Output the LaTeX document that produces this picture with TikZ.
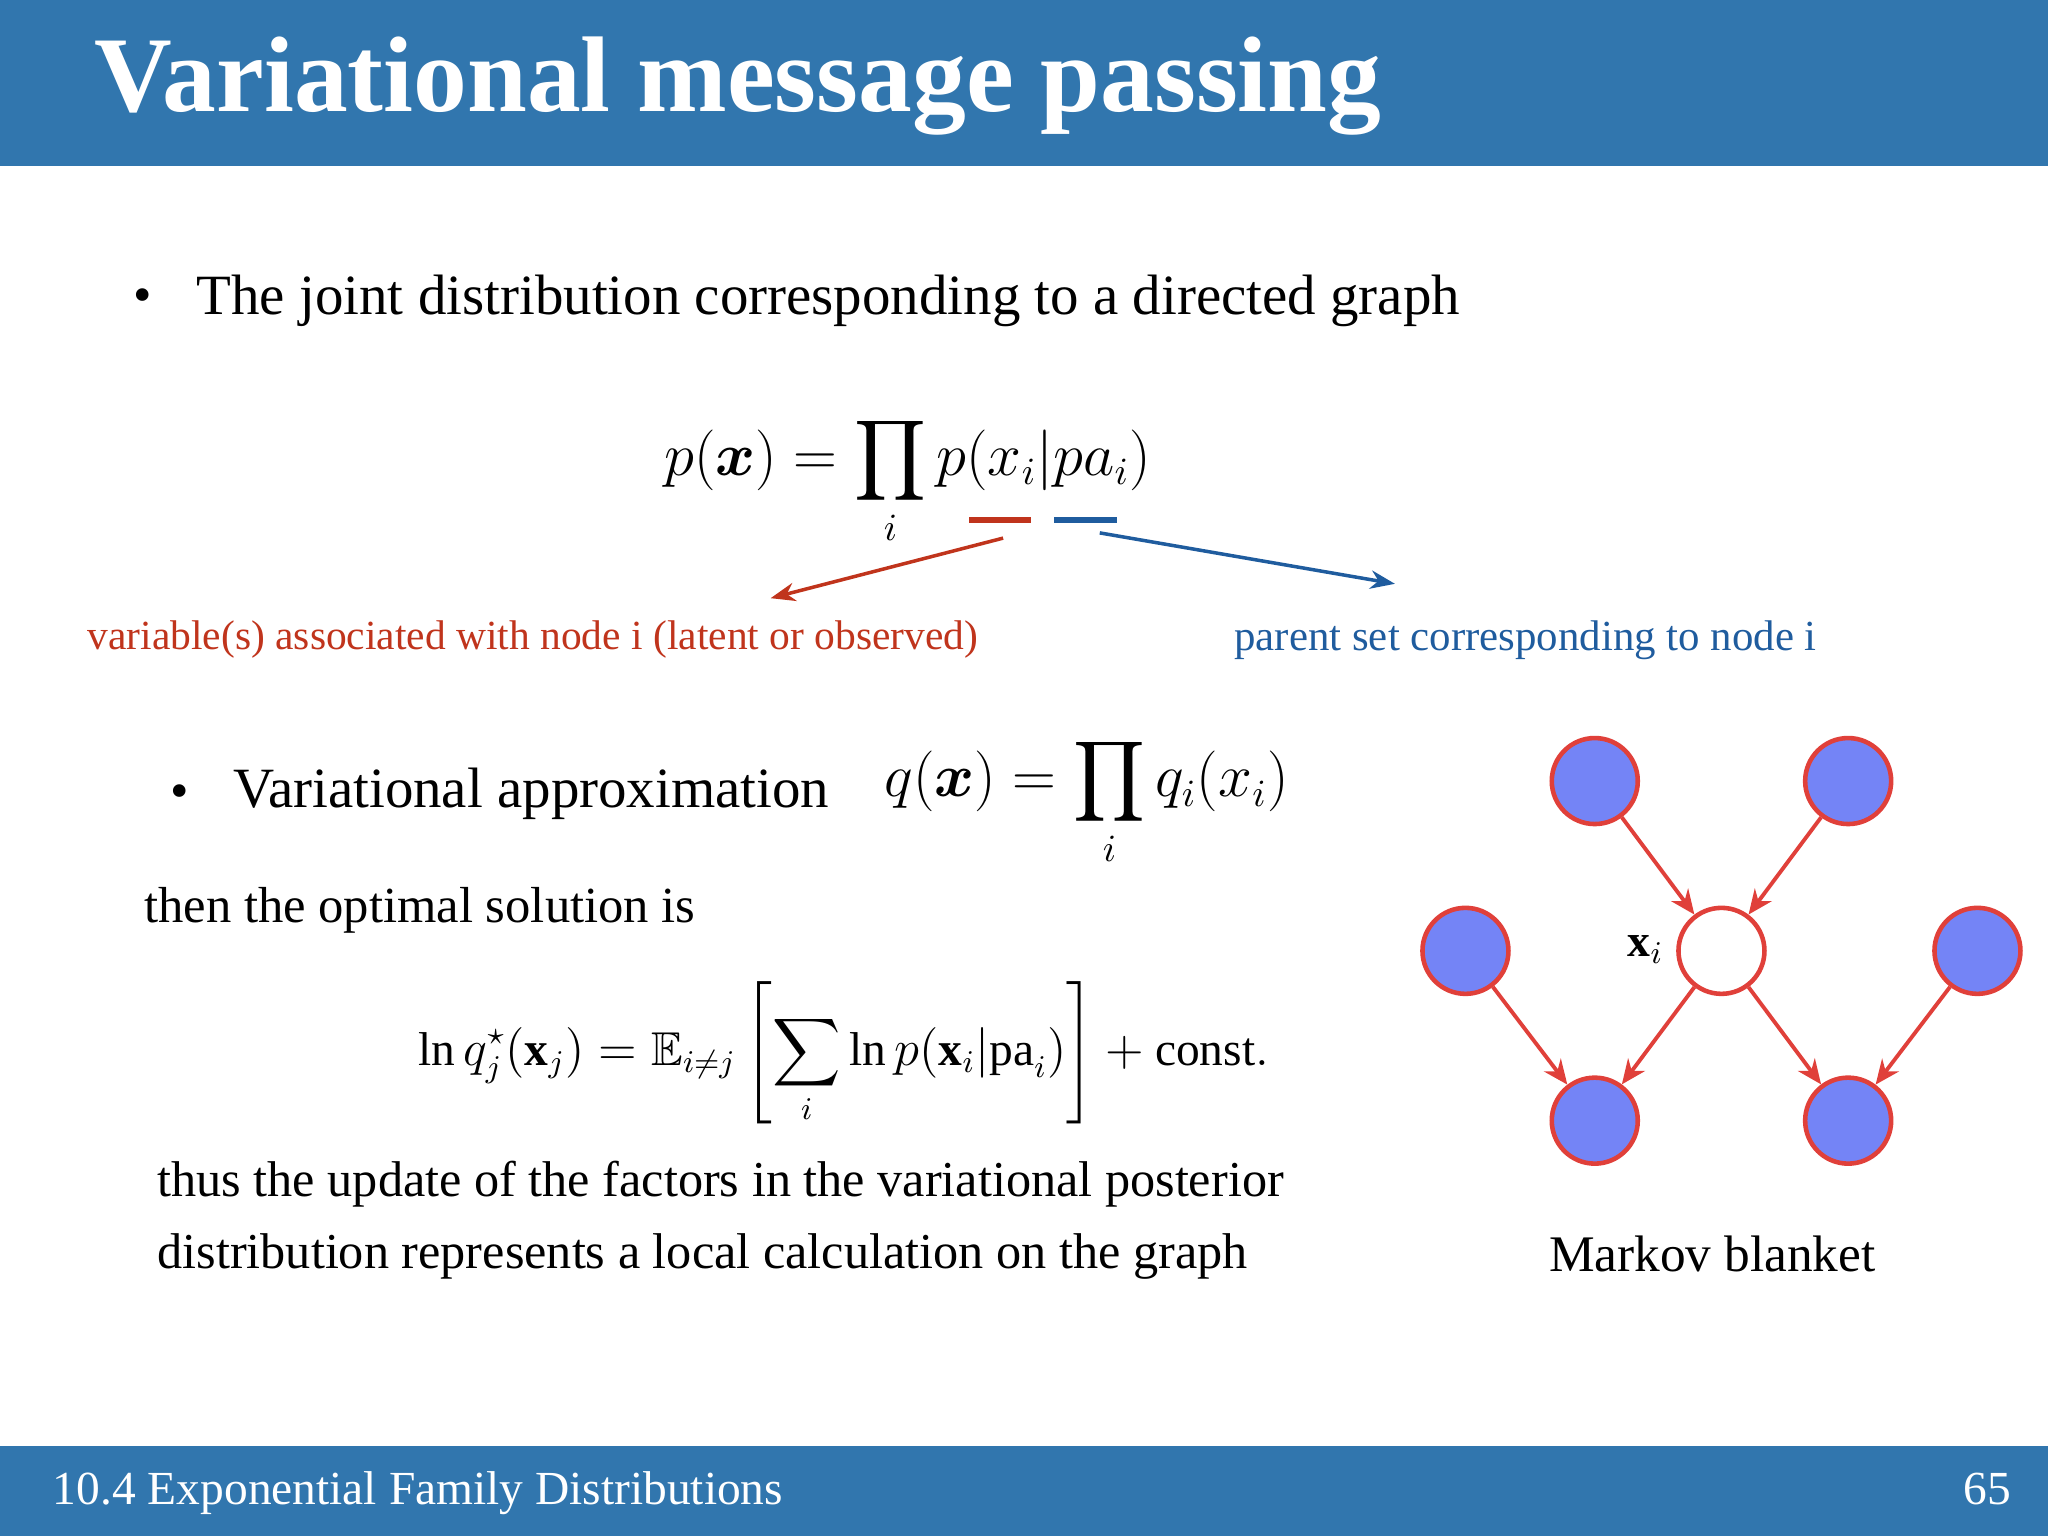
\documentclass[tikz,border=0pt]{standalone}
\usepackage{amsmath,amssymb,bm}
\usepackage{fontspec}
\setmainfont{Liberation Serif}
\usetikzlibrary{arrows.meta}
\definecolor{barblue}{HTML}{3176AE}
\definecolor{nred}{HTML}{E0403A}
\definecolor{nfill}{HTML}{7484F6}
\definecolor{tred}{HTML}{C0341C}
\definecolor{tblue}{HTML}{1F5C9E}
\tikzset{
  gnode/.style={circle,draw=nred,line width=1.3pt,fill=nfill,minimum size=0.86cm,inner sep=0},
  garrow/.style={draw=nred,line width=1.1pt,-{Stealth[length=7pt,width=6pt]}},
  body/.style={anchor=west,font=\fontsize{15}{18}\selectfont,inner sep=0},
}
\begin{document}
\begin{tikzpicture}[x=0.013061cm,y=-0.013061cm]
\useasboundingbox (0,0) rectangle (1568,1176);
\fill[barblue] (0,0) rectangle (1568,127);
\fill[barblue] (0,1107) rectangle (1568,1176);
\node[anchor=west,text=white,font=\fontsize{30.6}{36}\selectfont\bfseries,inner sep=0] (title) at (72,66) {Variational message passing};
\node[anchor=west,text=white,font=\fontsize{13.5}{15}\selectfont,inner sep=0] (foot) at (40,1143) {10.4 Exponential Family Distributions};
\node[anchor=east,text=white,font=\fontsize{13.5}{15}\selectfont,inner sep=0] (num) at (1540,1140) {65};

\node[body] (b1) at (102,230) {\textbullet};
\node[body,font=\fontsize{16.2}{18}\selectfont] (t1) at (150,230) {The joint distribution corresponding to a directed graph};
\node[font=\fontsize{16}{18}\selectfont] (eq1) at (695,368) {$\displaystyle p(\bm{x}) = \prod_i p(x_i|pa_i)$};
\draw[tred,line width=1.8pt] (742,398) -- (789,398);
\draw[tblue,line width=1.8pt] (807,398) -- (855,398);
\coordinate (ra) at (768,412);
\coordinate (rb) at (590,458);
\coordinate (ba) at (842,408);
\coordinate (bb) at (1068,447);
\draw[tred,line width=1pt,-{Stealth[length=7pt]}] (ra) -- (rb);
\draw[tblue,line width=1pt,-{Stealth[length=7pt]}] (ba) -- (bb);
\node[text=tred,font=\fontsize{11.8}{15}\selectfont] (rl) at (408,490) {variable(s) associated with node i (latent or observed)};
\node[text=tblue,font=\fontsize{12.2}{15}\selectfont] (bl) at (1168,490) {parent set corresponding to node i};

\node[body] (b2) at (130,610) {\textbullet};
\node[body,font=\fontsize{16.2}{18}\selectfont] (t2) at (178,608) {Variational approximation};
\node[font=\fontsize{16}{18}\selectfont] (eq2) at (832,614) {$\displaystyle q(\bm{x}) = \prod_i q_i(x_i)$};
\node[body,font=\fontsize{14.4}{18}\selectfont] (t3) at (110,697) {then the optimal solution is};
\node[font=\fontsize{13.5}{17}\selectfont] (eq3) at (646,806) {$\displaystyle \ln q_j^\star(\mathbf{x}_j) = \mathbb{E}_{i\neq j}\left[\sum_i \ln p(\mathbf{x}_i|\mathrm{pa}_i)\right] + \mathrm{const.}$};
\node[body,font=\fontsize{14.3}{18}\selectfont] (t4) at (120,907) {thus the update of the factors in the variational posterior};
\node[body,font=\fontsize{14.3}{18}\selectfont] (t5) at (120,962) {distribution represents a local calculation on the graph};

\node[gnode] (n1) at (1221,598) {};
\node[gnode] (n2) at (1415,598) {};
\node[gnode] (n3) at (1122,728) {};
\node[gnode,fill=white] (xi) at (1318,728) {};
\node[gnode] (n5) at (1514,728) {};
\node[gnode] (n6) at (1221,858) {};
\node[gnode] (n7) at (1415,858) {};
\node[font=\fontsize{13}{15}\selectfont] (xl) at (1260,727) {$\mathbf{x}_i$};
\draw[garrow] (n1) -- (xi);
\draw[garrow] (n2) -- (xi);
\draw[garrow] (n3) -- (n6);
\draw[garrow] (xi) -- (n6);
\draw[garrow] (xi) -- (n7);
\draw[garrow] (n5) -- (n7);
\node[font=\fontsize{14.6}{18}\selectfont] (mb) at (1311,960) {Markov blanket};
\end{tikzpicture}
\end{document}
